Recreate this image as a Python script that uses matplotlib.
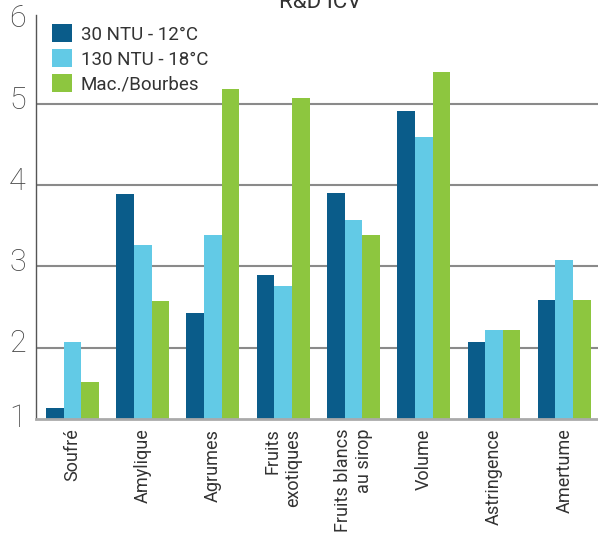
import numpy as np
import matplotlib.pyplot as plt

categories = ["Soufré", "Amylique", "Agrumes", "Fruits\nexotiques",
              "Fruits blancs\nau sirop", "Volume", "Astringence", "Amertume"]
ntu30 = [1.26, 3.89, 2.42, 2.90, 3.91, 4.92, 2.07, 2.58]
ntu130 = [2.07, 3.26, 3.39, 2.76, 3.57, 4.59, 2.22, 3.08]
bourbes = [1.57, 2.57, 5.19, 5.07, 3.39, 5.40, 2.22, 2.58]
series_names = ["30 NTU - 12°C", "130 NTU - 18°C", "Mac./Bourbes"]
y_labels = [1, 2, 3, 4, 5, 6]

colors = ["#0a5c8a", "#62cae6", "#8dc63f"]

plt.rcParams['font.family'] = ['Roboto', 'Liberation Sans', 'DejaVu Sans']

fig = plt.figure(figsize=(5.98, 5.33), dpi=100)
ax = fig.add_axes([0.060, 0.214, 0.940, 0.758])

x = np.arange(len(categories))
w = 0.251
for i, (vals, name) in enumerate(zip([ntu30, ntu130, bourbes], series_names)):
    ax.bar(x + (i - 1) * w, vals, width=w, color=colors[i], label=name, zorder=2)

ybot, ytop = 1.12, 6.10
ax.set_ylim(ybot, ytop)
ax.set_xlim(-0.52, 7.48)

for v in [2, 3, 4, 5]:
    ax.axhline(v, color="#8a8a8a", lw=1.5, zorder=1)

# y labels drawn by hand: the "1" sits on the bottom edge like in the original
ax.set_yticks([])
for v in y_labels:
    yy = ybot if v == 1 else v + 0.05
    ax.text(-0.018, yy, str(v), transform=ax.get_yaxis_transform(),
            ha="right", va="center", fontsize=22, color="#444444",
            fontweight="light", clip_on=False)

ax.set_xticks(x)
ax.set_xticklabels(categories, rotation=90, ha="center", va="top",
                   multialignment="right", fontsize=13, color="#333333")
ax.tick_params(axis="x", length=0, pad=7)

for s in ["top", "right"]:
    ax.spines[s].set_visible(False)
ax.spines["left"].set_color("#555555")
ax.spines["left"].set_linewidth(1.0)
ax.spines["bottom"].set_color("#aaaaaa")
ax.spines["bottom"].set_linewidth(2.0)

leg = ax.legend(loc="upper left", bbox_to_anchor=(0.008, 1.005), frameon=False,
                fontsize=13.5, handlelength=1.1, handleheight=1.1,
                handletextpad=0.45, labelspacing=0.3, borderaxespad=0.2,
                labelcolor="#333333")

fig.text(0.535, 0.995, "R&D ICV", ha="center", va="center", fontsize=16,
         color="#333333")

fig.savefig("out.png", dpi=100)
